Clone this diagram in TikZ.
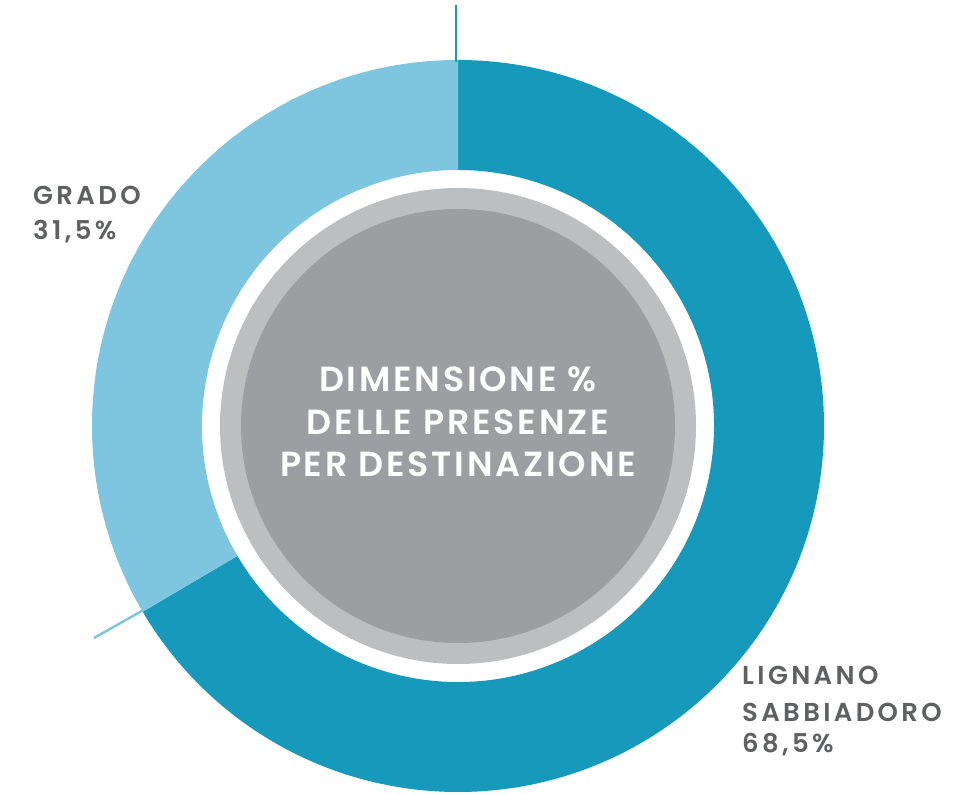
\documentclass[tikz,border=0pt]{standalone}
\usepackage{fontspec}
\setmainfont{Poppins}
\newfontfamily\labfont{Poppins SemiBold}[LetterSpace=13]
\newfontfamily\ctrfont{Poppins SemiBold}[LetterSpace=8]
\definecolor{teal1}{RGB}{22,153,186}
\definecolor{lblue}{RGB}{126,197,224}
\definecolor{lgray}{RGB}{189,190,192}
\definecolor{dgray}{RGB}{157,158,162}
\definecolor{tgray}{RGB}{95,96,98}
\begin{document}
\begin{tikzpicture}[x=1bp,y=1bp,
  lab/.style={anchor=base west,inner sep=0pt,text=tgray,font=\labfont\fontsize{26}{30}\selectfont},
  ctr/.style={anchor=base,inner sep=0pt,text=white,font=\ctrfont\fontsize{35}{40}\selectfont}]
\useasboundingbox (0,0) rectangle (969,795);
\coordinate (C) at (458,369);
% Lignano sector
\fill[teal1] ([shift={(90:366)}]C) arc[start angle=90,end angle=-149.5,radius=366]
  -- ([shift={(-149.5:256)}]C) arc[start angle=-149.5,end angle=90,radius=256] -- cycle;
% Grado sector
\fill[lblue] ([shift={(90:366)}]C) arc[start angle=90,end angle=210.5,radius=366]
  -- ([shift={(210.5:256)}]C) arc[start angle=210.5,end angle=90,radius=256] -- cycle;
% inner discs
\fill[lgray] (C) circle[radius=238];
\fill[dgray] (C) circle[radius=217];
% leader lines
\coordinate (t1) at (456,790);
\coordinate (t2) at (456,733);
\draw[teal1,line width=2.5bp] (t1) -- (t2);
\coordinate (b1) at (94,157);
\coordinate (b2) at (147,187);
\draw[lblue,line width=2.5bp] (b1) -- (b2);
% labels
\node[lab] (g1) at (33,590) {GRADO};
\node[lab] (g2) at (33,555) {31,5\%};
\node[lab] (l1) at (742,110) {LIGNANO};
\node[lab] (l2) at (742,73) {SABBIADORO};
\node[lab] (l3) at (742,42) {68,5\%};
\node[ctr] (c1) at (458,403) {DIMENSIONE \%};
\node[ctr] (c2) at (458,360) {DELLE PRESENZE};
\node[ctr] (c3) at (458,318) {PER DESTINAZIONE};
\end{tikzpicture}
\end{document}
